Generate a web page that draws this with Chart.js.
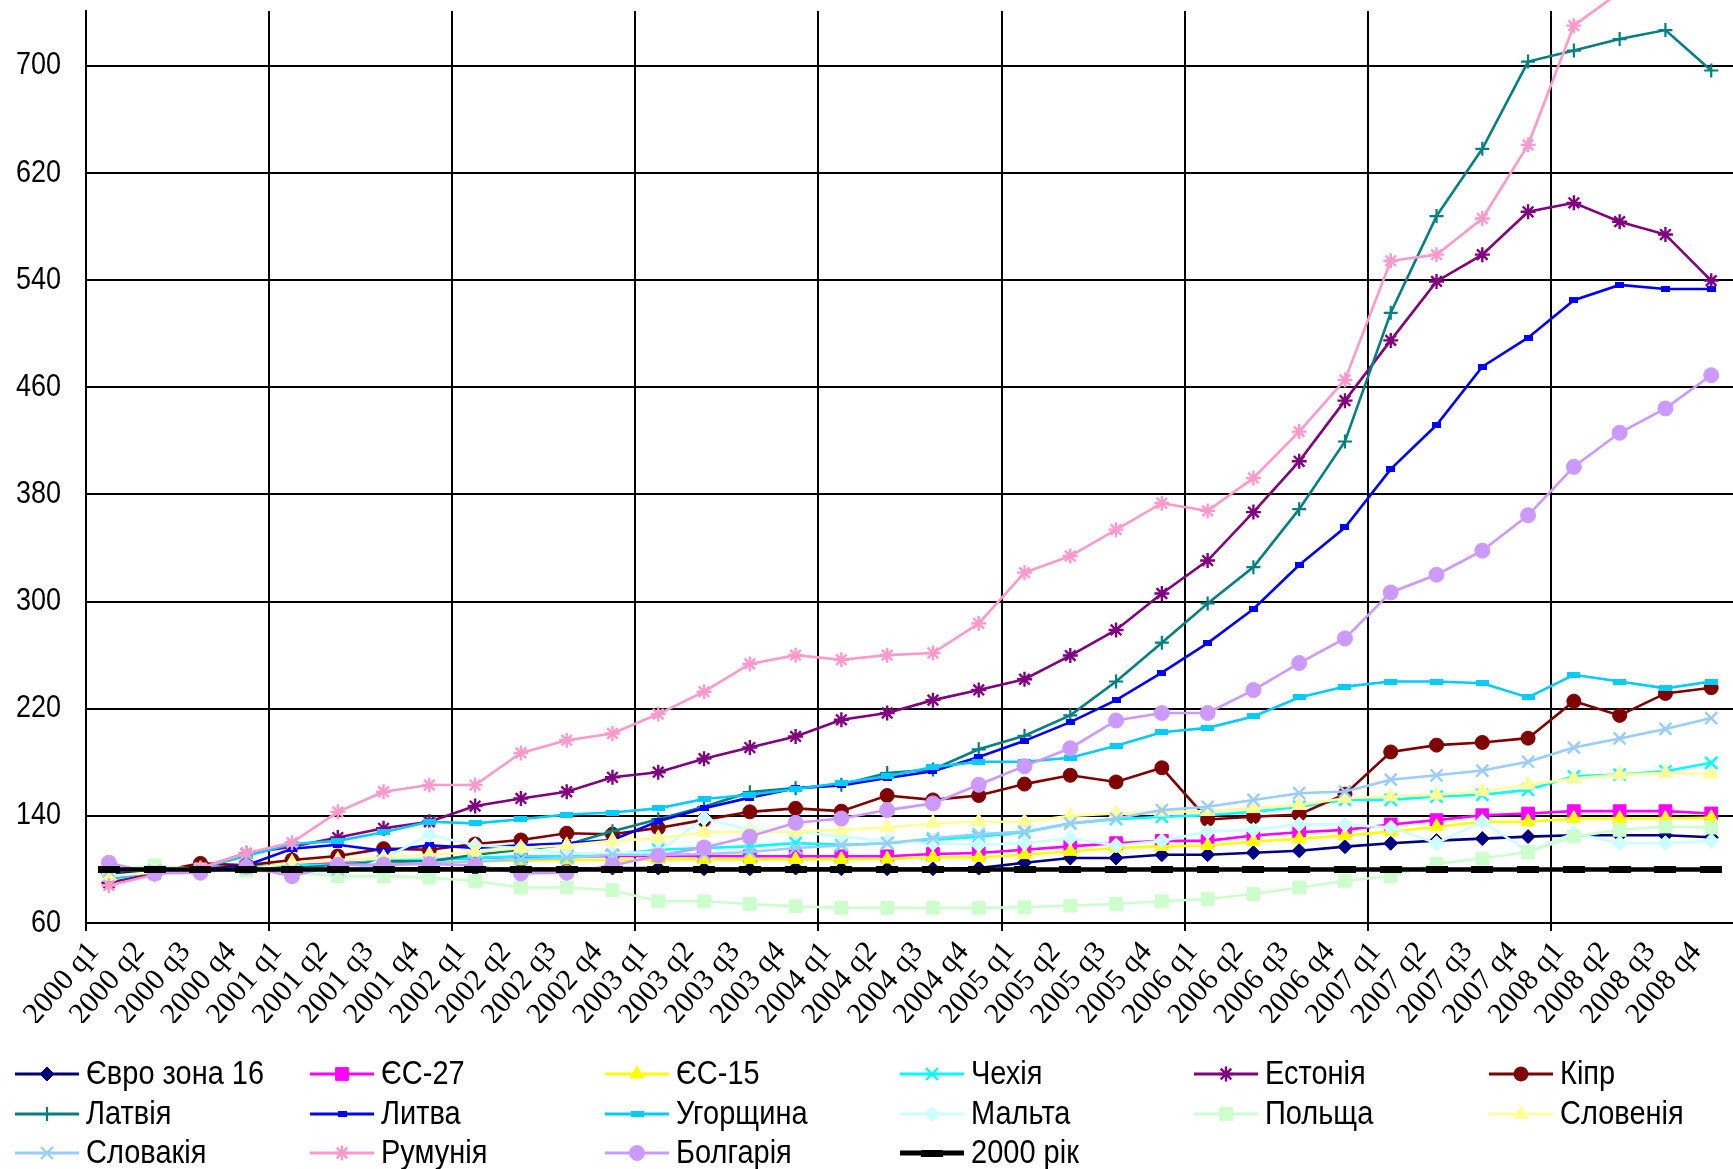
<!DOCTYPE html>
<html>
<head>
<meta charset="utf-8">
<script src="https://cdn.jsdelivr.net/npm/chart.js@4/dist/chart.umd.min.js"></script>
<style>
  html, body { margin: 0; padding: 0; background: #fff; overflow: hidden; }
  #wrap { width: 1745px; height: 1169px; }
</style>
</head>
<body>
<div id="wrap"><canvas id="chart" width="1745" height="1169"></canvas></div>
<script>
// --- дані ---
const quarters = [
  '2000 q1','2000 q2','2000 q3','2000 q4','2001 q1','2001 q2','2001 q3','2001 q4',
  '2002 q1','2002 q2','2002 q3','2002 q4','2003 q1','2003 q2','2003 q3','2003 q4',
  '2004 q1','2004 q2','2004 q3','2004 q4','2005 q1','2005 q2','2005 q3','2005 q4',
  '2006 q1','2006 q2','2006 q3','2006 q4','2007 q1','2007 q2','2007 q3','2007 q4',
  '2008 q1','2008 q2','2008 q3','2008 q4'
];
const yTicks = [60, 140, 220, 300, 380, 460, 540, 620, 700];

const euroZone = [97, 99, 100, 101, 100, 100.5, 100.5, 101, 100.5, 100.5, 100.5, 101, 101, 100.5, 100.5, 101, 100.5, 100.5, 100.5, 101, 105, 108.5, 108.5, 111, 111, 112.5, 114, 117, 119.5, 121.5, 123, 124.5, 125.5, 125.5, 125.5, 124];
const eu27 = [98, 99.5, 101, 102, 103, 104.5, 106, 107, 108.5, 109.5, 109.5, 110, 110, 110, 109.8, 109.8, 109.8, 109.8, 111.5, 112.3, 114.7, 117.2, 119.6, 121.3, 121.3, 125.3, 127.7, 129.5, 133.6, 136.8, 140.5, 141.7, 143.5, 143.5, 143.5, 141.8];
const eu15 = [98, 99.5, 100.5, 101.5, 102.5, 103.5, 104.5, 105.5, 106, 106.5, 107, 107, 107.5, 107.5, 107.5, 107.5, 107.5, 107.8, 109, 109, 111, 113.5, 116, 117.2, 117.9, 120.9, 122.8, 125.3, 128.2, 131.9, 135.6, 135.6, 138, 138, 138, 138.5];
const czech = [94, 97, 100, 102, 103, 103.5, 106.6, 107.4, 108.6, 109.8, 109.8, 111, 114.7, 116, 117.2, 119.6, 118.4, 119.6, 122, 124.5, 127.7, 134.4, 137.5, 139.3, 140.5, 143, 146.8, 151.9, 151.9, 154.4, 155.7, 159.4, 169.5, 170.8, 173.3, 179.6];
const estonia = [90, 97, 101, 112, 117, 123.8, 130.7, 135.6, 147.3, 153, 158, 168.8, 172.6, 182.7, 191, 199.3, 211.7, 216.8, 226.4, 234, 242, 259.7, 278.8, 306, 330.6, 366.8, 404.7, 450, 495, 539, 559, 591, 597.7, 583.6, 574, 539.6];
const cyprus = [98, 98, 104.5, 103, 107, 110, 115.5, 114.7, 119, 122, 127, 126.3, 131, 137, 143, 145.6, 143.5, 155.2, 151.9, 155.2, 163.7, 170.3, 165.3, 175.9, 137.3, 139.3, 141, 156.2, 187.7, 192.8, 194.8, 198, 225.6, 215, 231.4, 235.7];
const latvia = [97, 98, 100, 101, 101, 103, 106, 106, 111, 114.7, 118.4, 128.5, 137.5, 146.8, 157.7, 160.7, 163.2, 172, 174.6, 189.7, 199.8, 215, 240.3, 269.3, 298.6, 325.7, 369, 419.5, 515.6, 587.8, 638, 703.2, 711.4, 720, 726.7, 696.5];
const lithuania = [96, 99, 100, 103, 115.5, 118.4, 114, 118, 116, 118, 119.6, 122, 136, 145.6, 153.6, 160.7, 162.7, 168.3, 173.3, 184, 196, 210, 226.4, 247, 269, 294.4, 327.3, 355.3, 398.9, 431.8, 475.4, 497, 525, 536.4, 533.4, 533.4];
const hungary = [92.6, 98.5, 101, 110, 119, 121.3, 127.7, 135.6, 134.4, 137.5, 141, 142.5, 145.6, 152.6, 155.7, 160, 164.5, 169.5, 176.4, 180.4, 180.4, 183.4, 192.3, 202.4, 205.7, 214.2, 228.4, 236.5, 240.3, 240.3, 239, 228.4, 245.3, 240.3, 235.2, 240.3];
const malta = [99, 100, 100, 100, 100, 95, 108, 125.8, 118, 116, 112, 112, 113, 138, 129.5, 128.2, 124.5, 121, 119.6, 118.4, 119.6, 123.3, 117.9, 121.3, 128.2, 129.5, 133.6, 133.6, 131.2, 119.6, 135.6, 113.5, 127, 119.6, 119.6, 121.3];
const poland = [99, 103, 100, 99, 98, 95, 95, 93.9, 91.4, 86.5, 86.5, 84.5, 76.2, 76.2, 74.2, 72.5, 71.3, 71.3, 71.3, 71.3, 71.8, 73, 74.2, 76.2, 77.9, 81.6, 86.5, 91.4, 95.1, 104.2, 108.1, 113, 124.5, 129.5, 132, 131.2];
const slovenia = [95, 98, 100, 100, 105, 107, 108.6, 111, 113, 116, 118, 121.3, 123.3, 127.7, 128.2, 128.2, 129.5, 131.4, 134.4, 135.6, 135.6, 140, 141.8, 143, 143.5, 145.6, 148, 153.1, 154.4, 155.7, 158.2, 163.2, 167.8, 170.8, 172, 171.3];
const slovakia = [99, 99, 100, 101, 100, 100, 103, 105, 106, 107.4, 108.6, 111, 111, 111.5, 113, 116, 117.9, 119.6, 123.3, 126.3, 128.2, 134.4, 138, 144.3, 146.8, 151.9, 156.9, 158.2, 167, 170.3, 173.8, 180.4, 191, 197.8, 204.9, 213];
const romania = [88, 96, 101, 112, 120, 143, 158, 163, 163, 187, 196.5, 201.5, 216, 232.7, 253.4, 260, 256.6, 260, 261.6, 283.7, 321.6, 334, 353.7, 373.4, 367.7, 392.3, 426.9, 465.5, 554.4, 559, 586, 641, 730, 755, 770, 775];
const bulgaria = [105, 97, 97.5, 102, 95, 103.5, 103.7, 104, 103, 97, 97.5, 103, 110.3, 116.4, 124.5, 134.8, 138, 144.3, 149.3, 163.2, 177.1, 190.5, 211.2, 216.8, 216.8, 233.9, 254.1, 272.5, 306.8, 320, 338, 364.4, 400.6, 426, 444.2, 469];
const base2000 = [100, 100, 100, 100, 100, 100, 100, 100, 100, 100, 100, 100, 100, 100, 100, 100, 100, 100, 100, 100, 100, 100, 100, 100, 100, 100, 100, 100, 100, 100, 100, 100, 100, 100, 100, 100];

// маркер "риска" як у Excel
function dashMarker(w, h, color) {
  const c = document.createElement('canvas');
  c.width = w; c.height = h;
  const g = c.getContext('2d');
  g.fillStyle = color;
  g.fillRect(0, 0, w, h);
  return c;
}

function series(label, data, color, style, radius, extra) {
  return Object.assign({
    label: label,
    data: data,
    borderColor: color,
    backgroundColor: color,
    pointBackgroundColor: color,
    pointBorderColor: color,
    pointStyle: style,
    pointRadius: radius,
    pointHoverRadius: radius,
    pointBorderWidth: 1,
    borderWidth: 2.6,
    tension: 0,
    fill: false
  }, extra || {});
}

const datasets = [
  series('Євро зона 16', euroZone, '#000080', 'rectRot', 7),
  series('ЄС-27', eu27, '#FF00FF', 'rect', 9),
  series('ЄС-15', eu15, '#FFFF00', 'triangle', 8),
  series('Чехія', czech, '#00FFFF', 'crossRot', 8.5, { pointBorderWidth: 2.4 }),
  series('Естонія', estonia, '#800080', 'star', 7.5, { pointBorderWidth: 2.4 }),
  series('Кіпр', cyprus, '#800000', 'circle', 7),
  series('Латвія', latvia, '#008080', 'cross', 7, { pointBorderWidth: 2.2 }),
  series('Литва', lithuania, '#0000FF', dashMarker(9, 6, '#0000FF'), 5),
  series('Угорщина', hungary, '#00CCFF', dashMarker(13, 6, '#00CCFF'), 6),
  series('Мальта', malta, '#CCFFFF', 'rectRot', 7.5),
  series('Польща', poland, '#CCFFCC', 'rect', 9),
  series('Словенія', slovenia, '#FFFF99', 'triangle', 8.5),
  series('Словакія', slovakia, '#99CCFF', 'crossRot', 8.5, { pointBorderWidth: 2.4 }),
  series('Румунія', romania, '#FF99CC', 'star', 7.5, { pointBorderWidth: 2.4, clip: false }),
  series('Болгарія', bulgaria, '#CC99FF', 'circle', 7.5),
  series('2000 рік', base2000, '#000000', dashMarker(22, 7, '#000000'), 5, { borderWidth: 4.5 })
];
// як в Excel: наступні ряди поверх попередніх
datasets.forEach((ds, i) => { ds.order = datasets.length - i; });

// легенда сіткою 6 колонок
const legendCols = [15, 310, 605, 900, 1194, 1489];
const legendRows = [1074, 1114, 1153];

const gridLegend = {
  id: 'gridLegend',
  afterDraw(chart) {
    const ctx = chart.ctx;
    chart.data.datasets.forEach((ds, i) => {
      const x = legendCols[i % 6];
      const y = legendRows[Math.floor(i / 6)];
      ctx.save();
      ctx.strokeStyle = ds.borderColor;
      ctx.lineWidth = ds.borderWidth + 0.6;
      ctx.beginPath();
      ctx.moveTo(x, y);
      ctx.lineTo(x + 64, y);
      ctx.stroke();
      ctx.fillStyle = ds.pointBackgroundColor;
      ctx.strokeStyle = ds.pointBorderColor;
      ctx.lineWidth = ds.pointBorderWidth;
      Chart.helpers.drawPoint(ctx, {
        pointStyle: ds.pointStyle,
        radius: ds.pointRadius,
        borderWidth: ds.pointBorderWidth,
        rotation: 0
      }, x + 32, y);
      ctx.fillStyle = '#000';
      ctx.font = '29px "Liberation Sans", Arial, sans-serif';
      ctx.textAlign = 'left';
      ctx.textBaseline = 'middle';
      ctx.translate(x + 71, y + 1);
      ctx.scale(1, 1.12);
      ctx.fillText(ds.label, 0, 0);
      ctx.restore();
    });
  }
};

// підписи осі Y (трохи витягнуті по вертикалі, як в оригіналі)
const yLabels = {
  id: 'yLabels',
  afterDraw(chart) {
    const s = chart.scales.y;
    const ctx = chart.ctx;
    yTicks.forEach(v => {
      ctx.save();
      ctx.fillStyle = '#000';
      ctx.font = '27px "Liberation Sans", Arial, sans-serif';
      ctx.textAlign = 'right';
      ctx.textBaseline = 'middle';
      ctx.translate(61, s.getPixelForValue(v));
      ctx.scale(1, 1.15);
      ctx.fillText(String(v), 0, 0);
      ctx.restore();
    });
  }
};

Chart.defaults.font.family = '"Liberation Sans", Arial, sans-serif';
Chart.defaults.color = '#000';

new Chart(document.getElementById('chart'), {
  type: 'line',
  data: { labels: quarters, datasets: datasets },
  options: {
    responsive: false,
    animation: false,
    events: [],
    layout: { padding: { top: 8, left: 0, right: 7.5, bottom: 146 } },
    plugins: {
      legend: { display: false },
      tooltip: { enabled: false }
    },
    scales: {
      x: {
        offset: true,
        grid: {
          offset: true,
          color: ctx => (ctx.index % 4 === 0 ? '#000' : 'rgba(0,0,0,0)'),
          lineWidth: 2,
          drawTicks: true,
          tickLength: 8
        },
        border: { color: '#000', width: 2 },
        ticks: {
          autoSkip: false,
          maxRotation: 49,
          minRotation: 49,
          padding: 4,
          labelOffset: -15,
          font: { family: '"Liberation Serif", "Times New Roman", serif', size: 30 },
          color: '#000'
        },
        afterFit: s => { s.height = 100; s.paddingLeft = 0; s.paddingRight = 0; }
      },
      y: {
        min: 60,
        max: 741,
        afterBuildTicks: s => { s.ticks = yTicks.map(v => ({ value: v })); },
        grid: { color: '#000', lineWidth: 2, drawTicks: false },
        border: { color: '#000', width: 2 },
        ticks: { display: false },
        afterFit: s => { s.width = 86; s.paddingTop = 0; s.paddingBottom = 0; }
      }
    }
  },
  plugins: [gridLegend, yLabels]
});
</script>
</body>
</html>
